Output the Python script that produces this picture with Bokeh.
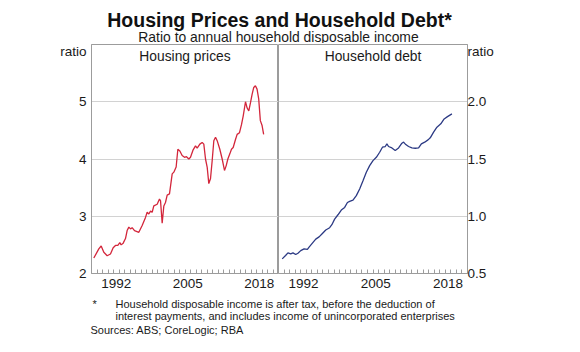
from bokeh.plotting import figure
from bokeh.layouts import column, row
from bokeh.models import Range1d, Label, FixedTicker
from bokeh.embed import file_html
from bokeh.resources import INLINE

FONT = "Liberation Sans"
FRAME = "#9c9c9c"
GRID = "#d2d2d2"
TXT = "#1a1a1a"

# ---- data ----
housing_year = [1988.42, 1989.33, 1989.76, 1990.24, 1990.85, 1991.45, 1991.94, 1992.36, 1992.79,
                1993.15, 1993.39, 1993.76, 1994.18, 1994.48, 1994.79, 1995.09, 1995.39, 1995.82,
                1996.61, 1997.21, 1997.82, 1998.12, 1998.42, 1998.73, 1999.03, 1999.33, 1999.94,
                2000.36, 2000.55, 2000.85, 2001.15, 2001.45, 2001.76, 2002.18, 2002.67, 2002.97,
                2003.39, 2003.70, 2004.06, 2004.48, 2004.91, 2005.27, 2005.70, 2006.00, 2006.48,
                2006.91, 2007.21, 2007.70, 2008.12, 2008.42, 2008.73, 2009.03, 2009.33, 2009.64,
                2009.94, 2010.24, 2010.55, 2010.85, 2011.33, 2011.76, 2012.18, 2012.48, 2012.79,
                2013.15, 2013.45, 2013.76, 2014.18, 2014.48, 2014.91, 2015.27, 2015.58, 2016.00,
                2016.30, 2016.60, 2016.90, 2017.20, 2017.50, 2017.80, 2018.10, 2018.40, 2018.70,
                2019.00, 2019.30]
housing_ratio = [2.27, 2.43, 2.48, 2.37, 2.31, 2.34, 2.45, 2.49, 2.49,
                 2.54, 2.50, 2.53, 2.61, 2.75, 2.81, 2.78, 2.80, 2.75,
                 2.72, 2.84, 2.98, 3.07, 3.04, 3.09, 3.07, 3.18, 3.21,
                 3.30, 3.27, 2.88, 3.18, 3.24, 3.37, 3.39, 3.74, 3.77,
                 3.86, 4.17, 4.14, 4.06, 4.03, 4.04, 4.00, 4.03, 4.16,
                 4.23, 4.19, 4.26, 4.29, 4.26, 4.00, 3.86, 3.57, 3.66,
                 3.97, 4.32, 4.38, 4.32, 4.17, 4.00, 3.80, 3.88, 4.00,
                 4.09, 4.17, 4.20, 4.34, 4.43, 4.46, 4.60, 4.75, 5.00,
                 4.89, 4.84, 4.98, 5.13, 5.25, 5.28, 5.22, 5.05, 4.67,
                 4.59, 4.43]

debt_year = [1988.67, 1989.27, 1989.70, 1990.20, 1990.60, 1991.10, 1991.50, 1992.00, 1992.60,
             1993.20, 1993.50, 1994.10, 1994.70, 1995.30, 1995.90, 1996.50, 1997.20, 1997.60,
             1998.10, 1998.70, 1999.30, 1999.90, 2000.40, 2000.80, 2001.40, 2002.00, 2002.60,
             2003.20, 2003.80, 2004.40, 2005.00, 2005.60, 2006.20, 2006.70, 2007.20, 2007.50,
             2007.80, 2008.40, 2009.00, 2009.60, 2010.20, 2010.50, 2010.90, 2011.40, 2012.00,
             2012.60, 2013.20, 2013.70, 2014.30, 2014.90, 2015.30, 2015.90, 2016.50, 2017.20,
             2017.80, 2018.40, 2019.20]
debt_ratio = [0.628, 0.657, 0.680, 0.672, 0.680, 0.666, 0.677, 0.700, 0.715,
              0.710, 0.730, 0.765, 0.800, 0.820, 0.850, 0.880, 0.900, 0.926,
              0.975, 1.013, 1.054, 1.077, 1.120, 1.130, 1.140, 1.180, 1.238,
              1.310, 1.384, 1.442, 1.486, 1.515, 1.559, 1.603, 1.609, 1.632,
              1.609, 1.597, 1.574, 1.597, 1.638, 1.647, 1.626, 1.609, 1.597,
              1.594, 1.597, 1.632, 1.647, 1.667, 1.685, 1.734, 1.778, 1.807,
              1.850, 1.870, 1.894]

year_labels = ["1992", "2005", "2018"]
housing_ticks = [2, 3, 4, 5]
housing_tick_labels = ["2", "3", "4", "5"]
debt_ticks = [0.5, 1.0, 1.5, 2.0]
debt_tick_labels = ["0.5", "1.0", "1.5", "2.0"]
unit_label = "ratio"

X_START, X_END = 1988, 2022
label_pos = [int(s) + 0.5 for s in year_labels]
minor_years = list(range(X_START + 1, X_END))


def style_panel(p, yticks, ylabels, ytop, standoff):
    p.outline_line_color = FRAME
    p.outline_line_width = 1
    p.background_fill_color = "white"
    p.border_fill_color = "white"
    p.xgrid.grid_line_color = None
    p.ygrid.ticker = FixedTicker(ticks=yticks[1:])
    p.ygrid.grid_line_color = GRID
    p.ygrid.grid_line_width = 1
    xa = p.xaxis[0]
    xa.ticker = FixedTicker(ticks=label_pos, minor_ticks=minor_years)
    xa.major_label_overrides = {pos: lab for pos, lab in zip(label_pos, year_labels)}
    xa.major_tick_in = 0
    xa.major_tick_out = 0
    xa.minor_tick_in = 4
    xa.minor_tick_out = 0
    xa.minor_tick_line_color = FRAME
    xa.axis_line_color = FRAME
    xa.major_label_standoff = 5
    xa.major_label_text_font = FONT
    xa.major_label_text_font_size = "13.5px"
    xa.major_label_text_color = TXT
    ya = p.yaxis[0]
    # unit label "ratio" sits just under the top of the frame, beside the axis
    ylo, yhi = p.y_range.start, p.y_range.end
    unit_pos = ytop - (yhi - ylo) * 0.025
    ya.ticker = FixedTicker(ticks=list(yticks) + [unit_pos])
    overrides = {t: l for t, l in zip(yticks, ylabels)}
    overrides[unit_pos] = unit_label
    ya.major_label_overrides = overrides
    ya.major_tick_in = 0
    ya.major_tick_out = 0
    ya.minor_tick_in = 0
    ya.minor_tick_out = 0
    ya.axis_line_color = FRAME
    ya.major_label_standoff = standoff
    ya.major_label_text_font = FONT
    ya.major_label_text_font_size = "13.5px"
    ya.major_label_text_color = TXT


# ---- top title strip ----
top = figure(width=580, height=43, x_range=Range1d(0, 580), y_range=Range1d(43, 0),
             output_backend="svg", toolbar_location=None, min_border=0)
top.axis.visible = False
top.grid.grid_line_color = None
top.outline_line_color = None
top.add_layout(Label(x=279, y=19, text="Housing Prices and Household Debt*", text_align="center",
                     text_baseline="middle", text_font=FONT, text_font_size="19.5px",
                     text_font_style="bold", text_color="#111111"))
top.add_layout(Label(x=278, y=36, text="Ratio to annual household disposable income", text_align="center",
                     text_baseline="middle", text_font=FONT, text_font_size="13.9px", text_color=TXT))

# ---- left panel ----
left = figure(width=278, height=252, x_range=Range1d(X_START, X_END), y_range=Range1d(2, 6),
              output_backend="svg", toolbar_location=None,
              min_border_left=91, min_border_right=0, min_border_top=1, min_border_bottom=22)
style_panel(left, housing_ticks, housing_tick_labels, 6, 5)
left.line(housing_year, housing_ratio, line_color="#d3263b", line_width=1.3)
left.add_layout(Label(x=(X_START + X_END) / 2, y=6, y_offset=-12, text="Housing prices",
                      text_align="center", text_baseline="middle", text_font=FONT,
                      text_font_size="13.8px", text_color=TXT))

# ---- right panel ----
right = figure(width=302, height=252, x_range=Range1d(X_START, X_END), y_range=Range1d(0.5, 2.5),
               output_backend="svg", toolbar_location=None, y_axis_location="right",
               min_border_left=0, min_border_right=113, min_border_top=1, min_border_bottom=22)
style_panel(right, debt_ticks, debt_tick_labels, 2.5, 0)
right.line(debt_year, debt_ratio, line_color="#2c3a84", line_width=1.3)
right.add_layout(Label(x=(X_START + X_END) / 2, y=2.5, y_offset=-12, text="Household debt",
                       text_align="center", text_baseline="middle", text_font=FONT,
                       text_font_size="13.8px", text_color=TXT))

# ---- footnotes ----
bottom = figure(width=580, height=57, x_range=Range1d(0, 580), y_range=Range1d(57, 0),
                output_backend="svg", toolbar_location=None, min_border=0)
bottom.axis.visible = False
bottom.grid.grid_line_color = None
bottom.outline_line_color = None
notes = [
    (92, 8, "*"),
    (115, 8, "Household disposable income is after tax, before the deduction of"),
    (115, 20, "interest payments, and includes income of unincorporated enterprises"),
    (90, 34, "Sources: ABS; CoreLogic; RBA"),
]
for nx, ny, t in notes:
    bottom.add_layout(Label(x=nx, y=ny, text=t, text_align="left", text_baseline="middle",
                            text_font=FONT, text_font_size="11px", text_color=TXT))

layout = column(top, row(left, right, spacing=0), bottom, spacing=0)
open("out.html", "w").write(file_html(layout, INLINE))
